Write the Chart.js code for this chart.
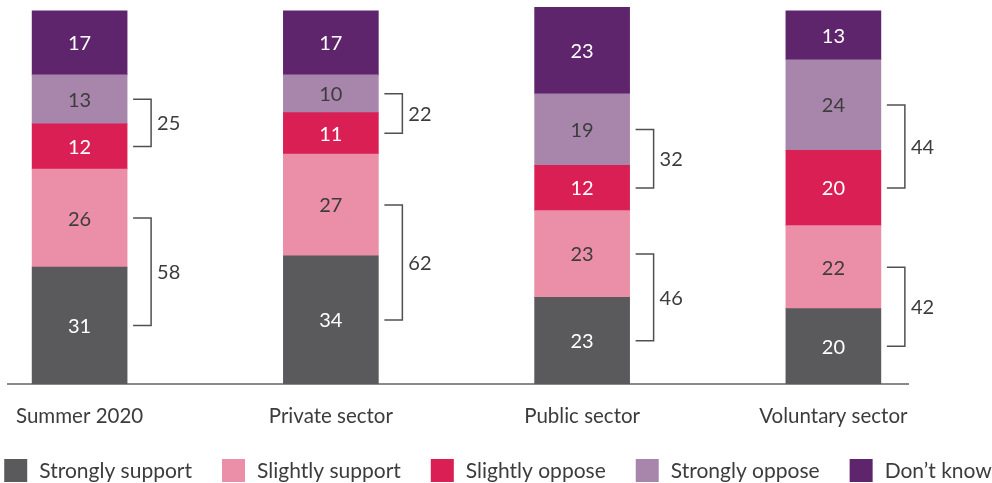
<!DOCTYPE html>
<html lang="en">

<head>
   <meta charset="UTF-8">
   <title>Support by sector</title>
   <script src="https://cdn.jsdelivr.net/npm/chart.js@4/dist/chart.umd.min.js"></script>
   <style>
      html, body { margin: 0; padding: 0; background: #fff; overflow: hidden; }
      .chart-container { position: relative; width: 992px; height: 483px; }
   </style>
</head>

<body>
   <div class="chart-container">
      <canvas id="myChart"></canvas>
   </div>
   <script>
      const categories = ['Summer 2020', 'Private sector', 'Public sector', 'Voluntary sector'];
      const seriesNames = ['Strongly support', 'Slightly support', 'Slightly oppose', 'Strongly oppose', 'Don\u2019t know'];
      const stronglySupport = [31, 34, 23, 20];
      const slightlySupport = [26, 27, 23, 22];
      const slightlyOppose = [12, 11, 12, 20];
      const stronglyOppose = [13, 10, 19, 24];
      const dontKnow = [17, 17, 23, 13];
      const supportTotals = [58, 62, 46, 42];
      const opposeTotals = [25, 22, 32, 44];

      const colors = ['#5a5a5c', '#eb8ea8', '#da1f54', '#a886ab', '#5f256c'];
      const valueColors = ['#ffffff', '#3c3c3c', '#ffffff', '#3c3c3c', '#ffffff'];
      const textColor = '#3c3c3c';
      const fontFamily = 'Lato, sans-serif';

      const seriesValues = [stronglySupport, slightlySupport, slightlyOppose, stronglyOppose, dontKnow];

      // values inside each segment
      const valueLabels = {
         id: 'valueLabels',
         afterDatasetsDraw(chart) {
            const ctx = chart.ctx;
            ctx.save();
            ctx.font = '20px ' + fontFamily;
            ctx.textAlign = 'center';
            ctx.textBaseline = 'middle';
            chart.data.datasets.forEach((ds, d) => {
               chart.getDatasetMeta(d).data.forEach((bar, i) => {
                  ctx.fillStyle = valueColors[d];
                  ctx.fillText(String(seriesValues[d][i]), bar.x, (bar.y + bar.base) / 2 + 1);
               });
            });
            ctx.restore();
         }
      };

      // brackets from middle of one segment to the middle of the next, with net total
      const brackets = {
         id: 'brackets',
         afterDatasetsDraw(chart) {
            const ctx = chart.ctx;
            const pairs = [[0, 1, supportTotals], [2, 3, opposeTotals]];
            ctx.save();
            ctx.strokeStyle = '#505052';
            ctx.lineWidth = 1.5;
            ctx.fillStyle = textColor;
            ctx.font = '20px ' + fontFamily;
            ctx.textAlign = 'left';
            ctx.textBaseline = 'middle';
            pairs.forEach(([a, b, totals]) => {
               const lower = chart.getDatasetMeta(a).data;
               const upper = chart.getDatasetMeta(b).data;
               lower.forEach((bar, i) => {
                  const right = bar.x + bar.width / 2;
                  const y1 = (bar.y + bar.base) / 2;
                  const y2 = (upper[i].y + upper[i].base) / 2;
                  const x0 = right + 6, x1 = right + 24;
                  ctx.beginPath();
                  ctx.moveTo(x0, y1);
                  ctx.lineTo(x1, y1);
                  ctx.lineTo(x1, y2);
                  ctx.lineTo(x0, y2);
                  ctx.stroke();
                  ctx.fillText(String(totals[i]), x1 + 6, (y1 + y2) / 2 + 1);
               });
            });
            ctx.restore();
         }
      };

      // one-row legend with square swatches along the bottom
      const bottomLegend = {
         id: 'bottomLegend',
         afterDraw(chart) {
            const ctx = chart.ctx;
            const box = 23, gapText = 12, gapItem = 30, fontSize = 21;
            ctx.save();
            ctx.font = fontSize + 'px ' + fontFamily;
            ctx.textBaseline = 'middle';
            ctx.textAlign = 'left';
            const widths = seriesNames.map(n => box + gapText + ctx.measureText(n).width);
            const total = widths.reduce((s, w) => s + w, 0) + gapItem * (widths.length - 1);
            let x = (chart.width - total) / 2 + 2;
            const top = 459;
            seriesNames.forEach((name, d) => {
               ctx.fillStyle = colors[d];
               ctx.fillRect(x, top, box, box);
               ctx.fillStyle = textColor;
               ctx.fillText(name, x + box + gapText, top + box / 2 + 1);
               x += widths[d] + gapItem;
            });
            ctx.restore();
         }
      };

      const config = {
         type: 'bar',
         data: {
            datasets: seriesNames.map((name, d) => ({
               label: name,
               data: seriesValues[d].map((v, i) => ({ x: i, y: v })),
               backgroundColor: colors[d],
               borderWidth: 0,
               barThickness: 95
            }))
         },
         options: {
            responsive: true,
            maintainAspectRatio: false,
            animation: false,
            layout: { padding: { left: 8, right: 84, top: 7, bottom: 54 } },
            scales: {
               x: {
                  type: 'linear',
                  stacked: true,
                  offset: false,
                  min: -0.285,
                  max: 3.297,
                  afterBuildTicks(scale) {
                     scale.ticks = categories.map((c, i) => ({ value: i }));
                  },
                  afterFit(scale) { scale.height = 45; },
                  grid: { display: false },
                  border: { display: true, color: '#8a8a8a', width: 2 },
                  ticks: {
                     padding: 12,
                     autoSkip: false,
                     maxRotation: 0,
                     color: textColor,
                     font: { family: fontFamily, size: 20.5 },
                     callback: (value) => categories[value]
                  }
               },
               y: {
                  stacked: true,
                  min: 0,
                  max: 100,
                  display: false
               }
            },
            plugins: {
               legend: { display: false },
               tooltip: { enabled: false }
            }
         },
         plugins: [valueLabels, brackets, bottomLegend]
      };

      const ctx = document.getElementById('myChart').getContext('2d');
      const chart = new Chart(ctx, config);
   </script>
</body>

</html>
